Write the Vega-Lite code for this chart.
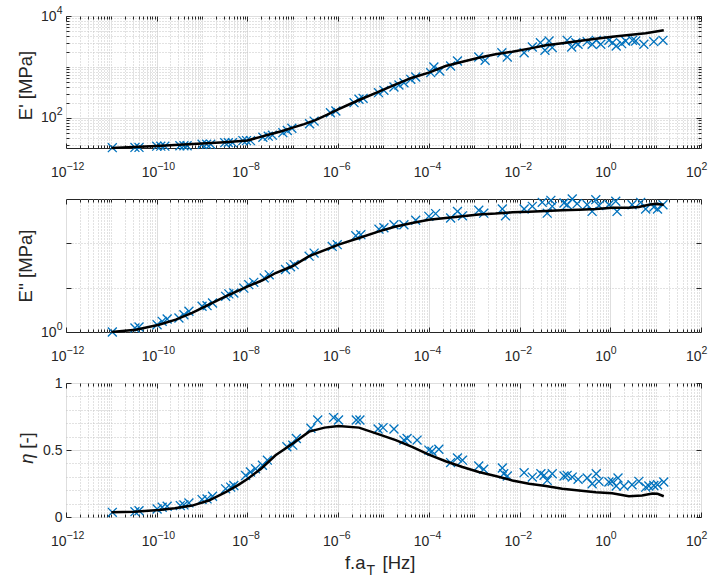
{
  "$schema": "https://vega.github.io/schema/vega-lite/v6.json",
  "background": "white",
  "padding": {"left": 15, "top": 4, "right": 2, "bottom": 2},
  "bounds": "flush",
  "spacing": 51,
  "datasets": {
    "ep_pts": [
      {"f": 1.05e-11, "v": 26.2}, {"f": 3.31e-11, "v": 26.5}, {"f": 4.07e-11, "v": 26.5},
      {"f": 1e-10, "v": 28}, {"f": 1.23e-10, "v": 28}, {"f": 1.51e-10, "v": 28},
      {"f": 3.24e-10, "v": 28.5}, {"f": 3.98e-10, "v": 28.5}, {"f": 4.68e-10, "v": 28.5},
      {"f": 1e-9, "v": 30.5}, {"f": 1.26e-9, "v": 30.5}, {"f": 1.55e-9, "v": 30.5},
      {"f": 3.16e-9, "v": 32.8}, {"f": 3.8e-9, "v": 32.8}, {"f": 4.68e-9, "v": 32.8},
      {"f": 7.94e-9, "v": 36}, {"f": 9.55e-9, "v": 36}, {"f": 1.17e-8, "v": 36},
      {"f": 2.19e-8, "v": 42}, {"f": 2.88e-8, "v": 44}, {"f": 3.55e-8, "v": 46},
      {"f": 6.03e-8, "v": 51.5}, {"f": 7.59e-8, "v": 57}, {"f": 9.55e-8, "v": 63},
      {"f": 2.34e-7, "v": 77}, {"f": 2.95e-7, "v": 87},
      {"f": 6.76e-7, "v": 127}, {"f": 8.91e-7, "v": 137},
      {"f": 2.24e-6, "v": 200}, {"f": 2.88e-6, "v": 233}, {"f": 3.55e-6, "v": 243},
      {"f": 7.76e-6, "v": 314}, {"f": 1.02e-5, "v": 349},
      {"f": 1.7e-5, "v": 405}, {"f": 2.19e-5, "v": 444}, {"f": 2.82e-5, "v": 492},
      {"f": 3.98e-5, "v": 573}, {"f": 5.13e-5, "v": 637},
      {"f": 1.1e-4, "v": 774}, {"f": 1.29e-4, "v": 1000}, {"f": 1.74e-4, "v": 835},
      {"f": 3.02e-4, "v": 1047}, {"f": 4.27e-4, "v": 1312},
      {"f": 1.26e-3, "v": 1570}, {"f": 1.74e-3, "v": 1352},
      {"f": 4.07e-3, "v": 1905}, {"f": 5.37e-3, "v": 1570},
      {"f": 1.26e-2, "v": 1905}, {"f": 1.91e-2, "v": 2466},
      {"f": 2.88e-2, "v": 3000}, {"f": 3.63e-2, "v": 2125}, {"f": 4.47e-2, "v": 3236}, {"f": 5.25e-2, "v": 2400},
      {"f": 0.112, "v": 3335}, {"f": 0.141, "v": 2466}, {"f": 0.174, "v": 3000}, {"f": 0.195, "v": 2790},
      {"f": 0.309, "v": 3135}, {"f": 0.398, "v": 2790}, {"f": 0.49, "v": 3335}, {"f": 0.617, "v": 2790},
      {"f": 0.933, "v": 3335}, {"f": 1.12, "v": 3000}, {"f": 1.35, "v": 2580}, {"f": 1.78, "v": 2865}, {"f": 2.19, "v": 3236},
      {"f": 3.09, "v": 3335}, {"f": 3.63, "v": 3236}, {"f": 5.5, "v": 2790},
      {"f": 9.12, "v": 3135}, {"f": 14.5, "v": 3335}
    ],
    "ep_fit": [
      {"f": 1e-11, "v": 25.8}, {"f": 3.16e-11, "v": 26.9}, {"f": 1e-10, "v": 28.2}, {"f": 3.16e-10, "v": 29.9},
      {"f": 1e-9, "v": 31.6}, {"f": 3.16e-9, "v": 33.5}, {"f": 1e-8, "v": 36.3}, {"f": 1.78e-8, "v": 41.7},
      {"f": 3.16e-8, "v": 47.9}, {"f": 5.62e-8, "v": 55}, {"f": 1e-7, "v": 64.6}, {"f": 1.78e-7, "v": 76},
      {"f": 3.16e-7, "v": 91}, {"f": 5.62e-7, "v": 115}, {"f": 1e-6, "v": 148}, {"f": 1.78e-6, "v": 186},
      {"f": 3.16e-6, "v": 233}, {"f": 7.94e-6, "v": 328}, {"f": 1.86e-5, "v": 457}, {"f": 4.27e-5, "v": 617},
      {"f": 1e-4, "v": 776}, {"f": 2.34e-4, "v": 1047}, {"f": 5.5e-4, "v": 1271}, {"f": 1.26e-3, "v": 1514},
      {"f": 2.95e-3, "v": 1778}, {"f": 6.92e-3, "v": 1995}, {"f": 1.62e-2, "v": 2291}, {"f": 3.8e-2, "v": 2661},
      {"f": 8.71e-2, "v": 2917}, {"f": 0.204, "v": 3236}, {"f": 0.479, "v": 3589}, {"f": 1.1, "v": 3936},
      {"f": 2.57, "v": 4236}, {"f": 6.03, "v": 4571}, {"f": 15.1, "v": 5248}
    ],
    "epp_pts": [
      {"f": 1.05e-11, "v": 1.0}, {"f": 3.31e-11, "v": 1.23}, {"f": 4.07e-11, "v": 1.3},
      {"f": 1.02e-10, "v": 1.46}, {"f": 1.32e-10, "v": 1.74}, {"f": 1.7e-10, "v": 1.96},
      {"f": 3.09e-10, "v": 2.07}, {"f": 3.98e-10, "v": 2.45}, {"f": 5.13e-10, "v": 2.93},
      {"f": 1e-9, "v": 3.8}, {"f": 1.29e-9, "v": 3.93}, {"f": 1.7e-9, "v": 4.51},
      {"f": 3.31e-9, "v": 6.38}, {"f": 3.89e-9, "v": 7.24}, {"f": 5.01e-9, "v": 7.59},
      {"f": 8.32e-9, "v": 9.77}, {"f": 1.07e-8, "v": 11.7}, {"f": 1.38e-8, "v": 13.2},
      {"f": 2.34e-8, "v": 16.6}, {"f": 3.02e-8, "v": 19.5},
      {"f": 6.92e-8, "v": 25.7}, {"f": 8.91e-8, "v": 29.5}, {"f": 1.07e-7, "v": 33.1},
      {"f": 2.29e-7, "v": 51.3}, {"f": 2.95e-7, "v": 60.3},
      {"f": 7.41e-7, "v": 85.1}, {"f": 9.55e-7, "v": 93.3},
      {"f": 2.45e-6, "v": 148}, {"f": 3.16e-6, "v": 157},
      {"f": 7.94e-6, "v": 209}, {"f": 1.02e-5, "v": 224},
      {"f": 1.7e-5, "v": 263}, {"f": 2.82e-5, "v": 263}, {"f": 5.13e-5, "v": 331},
      {"f": 1e-4, "v": 407}, {"f": 1.41e-4, "v": 468},
      {"f": 3.02e-4, "v": 372}, {"f": 4.27e-4, "v": 525}, {"f": 5.5e-4, "v": 417},
      {"f": 1.26e-3, "v": 556}, {"f": 1.62e-3, "v": 479},
      {"f": 4.17e-3, "v": 596}, {"f": 4.9e-3, "v": 417},
      {"f": 1.26e-2, "v": 596}, {"f": 1.91e-2, "v": 684},
      {"f": 3.16e-2, "v": 841}, {"f": 4.07e-2, "v": 479}, {"f": 4.9e-2, "v": 933}, {"f": 5.25e-2, "v": 684},
      {"f": 9.55e-2, "v": 813}, {"f": 0.112, "v": 741}, {"f": 0.145, "v": 1000}, {"f": 0.186, "v": 785},
      {"f": 0.309, "v": 741}, {"f": 0.398, "v": 525}, {"f": 0.479, "v": 966}, {"f": 0.562, "v": 708},
      {"f": 0.933, "v": 741}, {"f": 1.32, "v": 891}, {"f": 1.41, "v": 525},
      {"f": 3.02, "v": 741}, {"f": 4.68, "v": 841}, {"f": 6.03, "v": 596},
      {"f": 9.12, "v": 661}, {"f": 11.0, "v": 596}, {"f": 14.5, "v": 741}
    ],
    "epp_fit": [
      {"f": 1e-11, "v": 1.0}, {"f": 3.47e-11, "v": 1.12}, {"f": 1.12e-10, "v": 1.46}, {"f": 2.63e-10, "v": 1.9},
      {"f": 6.03e-10, "v": 2.69}, {"f": 1.41e-9, "v": 4.14}, {"f": 3.31e-9, "v": 6.4}, {"f": 1.02e-8, "v": 10.7},
      {"f": 2.14e-8, "v": 14.7}, {"f": 4.17e-8, "v": 21.4}, {"f": 9.77e-8, "v": 30.4}, {"f": 2.29e-7, "v": 51.3},
      {"f": 5.37e-7, "v": 72}, {"f": 1.02e-6, "v": 93.3}, {"f": 2.88e-6, "v": 132}, {"f": 7.94e-6, "v": 186},
      {"f": 1.86e-5, "v": 240}, {"f": 4.27e-5, "v": 288}, {"f": 1e-4, "v": 339}, {"f": 2.34e-4, "v": 372},
      {"f": 5.5e-4, "v": 407}, {"f": 1.26e-3, "v": 447}, {"f": 2.95e-3, "v": 468}, {"f": 6.92e-3, "v": 501},
      {"f": 1.62e-2, "v": 513}, {"f": 3.8e-2, "v": 537}, {"f": 8.71e-2, "v": 556}, {"f": 0.204, "v": 575},
      {"f": 0.479, "v": 596}, {"f": 1.1, "v": 631}, {"f": 2.57, "v": 631}, {"f": 4.27, "v": 661},
      {"f": 7.08, "v": 741}, {"f": 10, "v": 776}, {"f": 15.1, "v": 741}
    ],
    "eta_pts": [
      {"f": 1.05e-11, "v": 0.035}, {"f": 3.31e-11, "v": 0.04}, {"f": 4.07e-11, "v": 0.047},
      {"f": 1.02e-10, "v": 0.06}, {"f": 1.32e-10, "v": 0.073}, {"f": 1.7e-10, "v": 0.08},
      {"f": 3.31e-10, "v": 0.085}, {"f": 3.98e-10, "v": 0.09}, {"f": 5.13e-10, "v": 0.105},
      {"f": 1e-9, "v": 0.13}, {"f": 1.29e-9, "v": 0.135}, {"f": 1.7e-9, "v": 0.155},
      {"f": 3.31e-9, "v": 0.21}, {"f": 4.27e-9, "v": 0.223}, {"f": 5.01e-9, "v": 0.235},
      {"f": 9.12e-9, "v": 0.31}, {"f": 1.17e-8, "v": 0.336}, {"f": 1.51e-8, "v": 0.36},
      {"f": 2.14e-8, "v": 0.386}, {"f": 2.75e-8, "v": 0.424},
      {"f": 7.41e-8, "v": 0.524}, {"f": 1e-7, "v": 0.536}, {"f": 1.2e-7, "v": 0.586},
      {"f": 2.51e-7, "v": 0.662}, {"f": 3.55e-7, "v": 0.724},
      {"f": 7.94e-7, "v": 0.742}, {"f": 1.02e-6, "v": 0.724},
      {"f": 2.51e-6, "v": 0.724}, {"f": 3.02e-6, "v": 0.724},
      {"f": 7.59e-6, "v": 0.657}, {"f": 9.77e-6, "v": 0.667},
      {"f": 1.7e-5, "v": 0.657}, {"f": 2.82e-5, "v": 0.574}, {"f": 3.31e-5, "v": 0.586}, {"f": 5.5e-5, "v": 0.574},
      {"f": 1e-4, "v": 0.499}, {"f": 1.17e-4, "v": 0.491}, {"f": 1.66e-4, "v": 0.506},
      {"f": 3.02e-4, "v": 0.406}, {"f": 4.27e-4, "v": 0.441}, {"f": 5.5e-4, "v": 0.424},
      {"f": 1.26e-3, "v": 0.381}, {"f": 1.62e-3, "v": 0.356},
      {"f": 4.17e-3, "v": 0.366}, {"f": 4.47e-3, "v": 0.323}, {"f": 5.37e-3, "v": 0.306},
      {"f": 1.26e-2, "v": 0.331}, {"f": 1.91e-2, "v": 0.298},
      {"f": 2.95e-2, "v": 0.323}, {"f": 3.47e-2, "v": 0.311}, {"f": 4.07e-2, "v": 0.273}, {"f": 5.25e-2, "v": 0.323},
      {"f": 9.55e-2, "v": 0.306}, {"f": 0.112, "v": 0.311}, {"f": 0.145, "v": 0.298}, {"f": 0.195, "v": 0.281},
      {"f": 0.309, "v": 0.291}, {"f": 0.398, "v": 0.248}, {"f": 0.49, "v": 0.323}, {"f": 0.562, "v": 0.266},
      {"f": 0.933, "v": 0.261}, {"f": 1.1, "v": 0.266}, {"f": 1.35, "v": 0.231}, {"f": 1.48, "v": 0.291},
      {"f": 2.0, "v": 0.231}, {"f": 3.02, "v": 0.241}, {"f": 4.27, "v": 0.266}, {"f": 6.03, "v": 0.223}, {"f": 7.08, "v": 0.231},
      {"f": 9.12, "v": 0.235}, {"f": 11.0, "v": 0.241}, {"f": 15.1, "v": 0.261}
    ],
    "eta_fit": [
      {"f": 1e-11, "v": 0.035}, {"f": 3.16e-11, "v": 0.04}, {"f": 1.12e-10, "v": 0.053}, {"f": 2.51e-10, "v": 0.065},
      {"f": 6.03e-10, "v": 0.085}, {"f": 1.41e-9, "v": 0.123}, {"f": 3.31e-9, "v": 0.185}, {"f": 6.31e-9, "v": 0.24},
      {"f": 1.02e-8, "v": 0.286}, {"f": 2.0e-8, "v": 0.36}, {"f": 4.17e-8, "v": 0.461}, {"f": 1e-7, "v": 0.549},
      {"f": 2.29e-7, "v": 0.637}, {"f": 5.01e-7, "v": 0.667}, {"f": 1.02e-6, "v": 0.679}, {"f": 2.88e-6, "v": 0.667},
      {"f": 7.94e-6, "v": 0.617}, {"f": 1.86e-5, "v": 0.574}, {"f": 4.27e-5, "v": 0.524}, {"f": 1e-4, "v": 0.466},
      {"f": 2.34e-4, "v": 0.416}, {"f": 5.5e-4, "v": 0.373}, {"f": 1.26e-3, "v": 0.336}, {"f": 2.95e-3, "v": 0.306},
      {"f": 6.92e-3, "v": 0.273}, {"f": 1.62e-2, "v": 0.248}, {"f": 3.8e-2, "v": 0.231}, {"f": 8.71e-2, "v": 0.211},
      {"f": 0.204, "v": 0.198}, {"f": 0.479, "v": 0.185}, {"f": 1.1, "v": 0.178}, {"f": 2.57, "v": 0.155},
      {"f": 5.01, "v": 0.16}, {"f": 8.51, "v": 0.175}, {"f": 11.0, "v": 0.173}, {"f": 15.1, "v": 0.155}
    ]
  },
  "vconcat": [
    {
      "width": 635, "height": 132,
      "resolve": {"axis": {"x": "independent", "y": "independent"}},
      "layer": [
        {
          "data": {"name": "ep_pts"},
          "mark": {"type": "point", "shape": "M-1,-1L1,1M-1,1L1,-1", "filled": false, "color": "#0072BD", "strokeWidth": 1.3, "size": 80, "opacity": 1},
          "encoding": {
            "x": {"field": "f", "type": "quantitative", "scale": {"type": "log", "domain": [1e-12, 100], "nice": false},
              "axis": {"orient": "bottom", "values": [1e-12, 1e-10, 1e-8, 1e-6, 1e-4, 0.01, 1, 100], "labelExpr": "'10'", "labelAlign": "right", "encode": {"labels": {"update": {"dx": {"signal": "datum.value < 1e-9 ? -1 : datum.value < 0.1 ? 2 : 5"}}}}, "grid": true, "gridColor": "#dedede", "tickSize": -5, "labelBaseline": "alphabetic", "labelPadding": 33, "title": null}},
            "y": {"field": "v", "type": "quantitative", "scale": {"type": "log", "domain": [25.8, 10000], "nice": false},
              "axis": {"orient": "left", "values": [100, 10000], "labelExpr": "'10'", "grid": true, "gridColor": "#dedede", "tickSize": -5, "labelPadding": 15, "title": "E' [MPa]", "titleX": -35, "titleY": 69, "titleBaseline": "alphabetic"}}
          }
        },
        {
          "data": {"name": "ep_fit"},
          "mark": {"type": "line", "color": "black", "strokeWidth": 2.5},
          "encoding": {
            "x": {"field": "f", "type": "quantitative", "scale": {"type": "log", "domain": [1e-12, 100], "nice": false},
              "axis": {"orient": "bottom", "values": [2e-12,3e-12,4e-12,5e-12,6e-12,7e-12,8e-12,9e-12,1e-11,2e-11,3e-11,4e-11,5e-11,6e-11,7e-11,8e-11,9e-11,2e-10,3e-10,4e-10,5e-10,6e-10,7e-10,8e-10,9e-10,1e-9,2e-9,3e-9,4e-9,5e-9,6e-9,7e-9,8e-9,9e-9,2e-8,3e-8,4e-8,5e-8,6e-8,7e-8,8e-8,9e-8,1e-7,2e-7,3e-7,4e-7,5e-7,6e-7,7e-7,8e-7,9e-7,2e-6,3e-6,4e-6,5e-6,6e-6,7e-6,8e-6,9e-6,1e-5,2e-5,3e-5,4e-5,5e-5,6e-5,7e-5,8e-5,9e-5,2e-4,3e-4,4e-4,5e-4,6e-4,7e-4,8e-4,9e-4,1e-3,2e-3,3e-3,4e-3,5e-3,6e-3,7e-3,8e-3,9e-3,0.02,0.03,0.04,0.05,0.06,0.07,0.08,0.09,0.1,0.2,0.3,0.4,0.5,0.6,0.7,0.8,0.9,2,3,4,5,6,7,8,9,10,20,30,40,50,60,70,80,90], "labels": false, "grid": true, "gridColor": "#c4c4c4", "gridDash": [1, 2], "tickSize": -3, "title": null}},
            "y": {"field": "v", "type": "quantitative", "scale": {"type": "log", "domain": [25.8, 10000], "nice": false},
              "axis": {"orient": "left", "values": [30,40,50,60,70,80,90,200,300,400,500,600,700,800,900,1000,2000,3000,4000,5000,6000,7000,8000,9000], "labels": false, "grid": true, "gridColor": "#c4c4c4", "gridDash": [1, 2], "tickSize": -3, "title": null}}
          }
        },
        {
          "data": {"name": "ep_pts"},
          "mark": {"type": "point", "opacity": 0},
          "encoding": {
            "x": {"field": "f", "type": "quantitative", "scale": {"type": "log", "domain": [1e-12, 100], "nice": false},
              "axis": {"orient": "bottom", "values": [1e-12, 1e-10, 1e-8, 1e-6, 1e-4, 0.01, 1, 100], "ticks": false, "grid": false, "labelFontSize": 10.5, "labelAlign": "left", "labelBaseline": "alphabetic", "labelPadding": 21, "labelExpr": "datum.value < 1e-11 ? '−12' : datum.value < 1e-9 ? '−10' : datum.value < 1e-7 ? '−8' : datum.value < 1e-5 ? '−6' : datum.value < 1e-3 ? '−4' : datum.value < 0.1 ? '−2' : datum.value < 10 ? '0' : '2'", "encode": {"labels": {"update": {"dx": {"signal": "datum.value < 1e-9 ? -1 : datum.value < 0.1 ? 2 : 5"}}}}, "title": null}},
            "y": {"field": "v", "type": "quantitative", "scale": {"type": "log", "domain": [25.8, 10000], "nice": false},
              "axis": {"orient": "left", "values": [100, 10000], "ticks": false, "grid": false, "labelFontSize": 10.5, "labelPadding": 4, "labelOffset": -6, "labelExpr": "datum.value < 1000 ? '2' : '4'", "title": null}}
          }
        },
        {
          "data": {"name": "ep_pts"},
          "mark": {"type": "point", "opacity": 0},
          "encoding": {
            "x": {"field": "f", "type": "quantitative", "scale": {"type": "log", "domain": [1e-12, 100], "nice": false},
              "axis": {"orient": "top", "values": [1e-12, 1e-10, 1e-8, 1e-6, 1e-4, 0.01, 1, 100], "labels": false, "grid": false, "tickSize": -5, "title": null}},
            "y": {"field": "v", "type": "quantitative", "scale": {"type": "log", "domain": [25.8, 10000], "nice": false},
              "axis": {"orient": "right", "values": [100, 10000], "labels": false, "grid": false, "tickSize": -5, "title": null}}
          }
        },
        {
          "data": {"name": "ep_pts"},
          "mark": {"type": "point", "opacity": 0},
          "encoding": {
            "x": {"field": "f", "type": "quantitative", "scale": {"type": "log", "domain": [1e-12, 100], "nice": false},
              "axis": {"orient": "top", "values": [2e-12,3e-12,4e-12,5e-12,6e-12,7e-12,8e-12,9e-12,1e-11,2e-11,3e-11,4e-11,5e-11,6e-11,7e-11,8e-11,9e-11,2e-10,3e-10,4e-10,5e-10,6e-10,7e-10,8e-10,9e-10,1e-9,2e-9,3e-9,4e-9,5e-9,6e-9,7e-9,8e-9,9e-9,2e-8,3e-8,4e-8,5e-8,6e-8,7e-8,8e-8,9e-8,1e-7,2e-7,3e-7,4e-7,5e-7,6e-7,7e-7,8e-7,9e-7,2e-6,3e-6,4e-6,5e-6,6e-6,7e-6,8e-6,9e-6,1e-5,2e-5,3e-5,4e-5,5e-5,6e-5,7e-5,8e-5,9e-5,2e-4,3e-4,4e-4,5e-4,6e-4,7e-4,8e-4,9e-4,1e-3,2e-3,3e-3,4e-3,5e-3,6e-3,7e-3,8e-3,9e-3,0.02,0.03,0.04,0.05,0.06,0.07,0.08,0.09,0.1,0.2,0.3,0.4,0.5,0.6,0.7,0.8,0.9,2,3,4,5,6,7,8,9,10,20,30,40,50,60,70,80,90], "labels": false, "grid": false, "tickSize": -3, "title": null}},
            "y": {"field": "v", "type": "quantitative", "scale": {"type": "log", "domain": [25.8, 10000], "nice": false},
              "axis": {"orient": "right", "values": [30,40,50,60,70,80,90,200,300,400,500,600,700,800,900,1000,2000,3000,4000,5000,6000,7000,8000,9000], "labels": false, "grid": false, "tickSize": -3, "title": null}}
          }
        }
      ]
    },
    {
      "width": 635, "height": 133,
      "resolve": {"axis": {"x": "independent", "y": "independent"}},
      "layer": [
        {
          "data": {"name": "epp_pts"},
          "mark": {"type": "point", "shape": "M-1,-1L1,1M-1,1L1,-1", "filled": false, "color": "#0072BD", "strokeWidth": 1.3, "size": 80, "opacity": 1},
          "encoding": {
            "x": {"field": "f", "type": "quantitative", "scale": {"type": "log", "domain": [1e-12, 100], "nice": false},
              "axis": {"orient": "bottom", "values": [1e-12, 1e-10, 1e-8, 1e-6, 1e-4, 0.01, 1, 100], "labelExpr": "'10'", "labelAlign": "right", "encode": {"labels": {"update": {"dx": {"signal": "datum.value < 1e-9 ? -1 : datum.value < 0.1 ? 2 : 5"}}}}, "grid": true, "gridColor": "#dedede", "tickSize": -5, "labelBaseline": "alphabetic", "labelPadding": 33, "title": null}},
            "y": {"field": "v", "type": "quantitative", "scale": {"type": "log", "domain": [1, 1000], "nice": false},
              "axis": {"orient": "left", "values": [1], "labelExpr": "'10'", "grid": false, "tickSize": -5, "labelPadding": 15, "title": "E'' [MPa]", "titleX": -35, "titleBaseline": "alphabetic"}}
          }
        },
        {
          "data": {"name": "epp_fit"},
          "mark": {"type": "line", "color": "black", "strokeWidth": 2.5},
          "encoding": {
            "x": {"field": "f", "type": "quantitative", "scale": {"type": "log", "domain": [1e-12, 100], "nice": false},
              "axis": {"orient": "bottom", "values": [2e-12,3e-12,4e-12,5e-12,6e-12,7e-12,8e-12,9e-12,1e-11,2e-11,3e-11,4e-11,5e-11,6e-11,7e-11,8e-11,9e-11,2e-10,3e-10,4e-10,5e-10,6e-10,7e-10,8e-10,9e-10,1e-9,2e-9,3e-9,4e-9,5e-9,6e-9,7e-9,8e-9,9e-9,2e-8,3e-8,4e-8,5e-8,6e-8,7e-8,8e-8,9e-8,1e-7,2e-7,3e-7,4e-7,5e-7,6e-7,7e-7,8e-7,9e-7,2e-6,3e-6,4e-6,5e-6,6e-6,7e-6,8e-6,9e-6,1e-5,2e-5,3e-5,4e-5,5e-5,6e-5,7e-5,8e-5,9e-5,2e-4,3e-4,4e-4,5e-4,6e-4,7e-4,8e-4,9e-4,1e-3,2e-3,3e-3,4e-3,5e-3,6e-3,7e-3,8e-3,9e-3,0.02,0.03,0.04,0.05,0.06,0.07,0.08,0.09,0.1,0.2,0.3,0.4,0.5,0.6,0.7,0.8,0.9,2,3,4,5,6,7,8,9,10,20,30,40,50,60,70,80,90], "labels": false, "grid": true, "gridColor": "#c4c4c4", "gridDash": [1, 2], "tickSize": -3, "title": null}},
            "y": {"field": "v", "type": "quantitative", "scale": {"type": "log", "domain": [1, 1000], "nice": false},
              "axis": {"orient": "left", "values": [10, 100], "labels": false, "grid": true, "gridColor": "#c4c4c4", "gridDash": [1, 2], "tickSize": -5, "title": null}}
          }
        },
        {
          "data": {"name": "epp_pts"},
          "mark": {"type": "point", "opacity": 0},
          "encoding": {
            "x": {"field": "f", "type": "quantitative", "scale": {"type": "log", "domain": [1e-12, 100], "nice": false},
              "axis": {"orient": "bottom", "values": [1e-12, 1e-10, 1e-8, 1e-6, 1e-4, 0.01, 1, 100], "ticks": false, "grid": false, "labelFontSize": 10.5, "labelAlign": "left", "labelBaseline": "alphabetic", "labelPadding": 21, "labelExpr": "datum.value < 1e-11 ? '−12' : datum.value < 1e-9 ? '−10' : datum.value < 1e-7 ? '−8' : datum.value < 1e-5 ? '−6' : datum.value < 1e-3 ? '−4' : datum.value < 0.1 ? '−2' : datum.value < 10 ? '0' : '2'", "encode": {"labels": {"update": {"dx": {"signal": "datum.value < 1e-9 ? -1 : datum.value < 0.1 ? 2 : 5"}}}}, "title": null}},
            "y": {"field": "v", "type": "quantitative", "scale": {"type": "log", "domain": [1, 1000], "nice": false},
              "axis": {"orient": "left", "values": [1], "ticks": false, "grid": false, "labelFontSize": 10.5, "labelPadding": 4, "labelOffset": -6, "labelExpr": "'0'", "title": null}}
          }
        },
        {
          "data": {"name": "epp_pts"},
          "mark": {"type": "point", "opacity": 0},
          "encoding": {
            "x": {"field": "f", "type": "quantitative", "scale": {"type": "log", "domain": [1e-12, 100], "nice": false},
              "axis": {"orient": "top", "values": [1e-12, 1e-10, 1e-8, 1e-6, 1e-4, 0.01, 1, 100], "labels": false, "grid": false, "tickSize": -5, "title": null}},
            "y": {"field": "v", "type": "quantitative", "scale": {"type": "log", "domain": [1, 1000], "nice": false},
              "axis": {"orient": "right", "values": [10, 100], "labels": false, "grid": false, "tickSize": -5, "title": null}}
          }
        },
        {
          "data": {"name": "epp_pts"},
          "mark": {"type": "point", "opacity": 0},
          "encoding": {
            "x": {"field": "f", "type": "quantitative", "scale": {"type": "log", "domain": [1e-12, 100], "nice": false},
              "axis": {"orient": "top", "values": [2e-12,3e-12,4e-12,5e-12,6e-12,7e-12,8e-12,9e-12,1e-11,2e-11,3e-11,4e-11,5e-11,6e-11,7e-11,8e-11,9e-11,2e-10,3e-10,4e-10,5e-10,6e-10,7e-10,8e-10,9e-10,1e-9,2e-9,3e-9,4e-9,5e-9,6e-9,7e-9,8e-9,9e-9,2e-8,3e-8,4e-8,5e-8,6e-8,7e-8,8e-8,9e-8,1e-7,2e-7,3e-7,4e-7,5e-7,6e-7,7e-7,8e-7,9e-7,2e-6,3e-6,4e-6,5e-6,6e-6,7e-6,8e-6,9e-6,1e-5,2e-5,3e-5,4e-5,5e-5,6e-5,7e-5,8e-5,9e-5,2e-4,3e-4,4e-4,5e-4,6e-4,7e-4,8e-4,9e-4,1e-3,2e-3,3e-3,4e-3,5e-3,6e-3,7e-3,8e-3,9e-3,0.02,0.03,0.04,0.05,0.06,0.07,0.08,0.09,0.1,0.2,0.3,0.4,0.5,0.6,0.7,0.8,0.9,2,3,4,5,6,7,8,9,10,20,30,40,50,60,70,80,90], "labels": false, "grid": false, "tickSize": -3, "title": null}},
            "y": {"field": "v", "type": "quantitative", "scale": {"type": "log", "domain": [1, 1000], "nice": false}, "axis": null}
          }
        }
      ]
    },
    {
      "width": 635, "height": 134,
      "resolve": {"axis": {"x": "independent", "y": "independent"}},
      "layer": [
        {
          "data": {"name": "eta_pts"},
          "mark": {"type": "point", "shape": "M-1,-1L1,1M-1,1L1,-1", "filled": false, "color": "#0072BD", "strokeWidth": 1.3, "size": 80, "opacity": 1},
          "encoding": {
            "x": {"field": "f", "type": "quantitative", "scale": {"type": "log", "domain": [1e-12, 100], "nice": false},
              "axis": {"orient": "bottom", "values": [1e-12, 1e-10, 1e-8, 1e-6, 1e-4, 0.01, 1, 100], "labelExpr": "'10'", "labelAlign": "right", "encode": {"labels": {"update": {"dx": {"signal": "datum.value < 1e-9 ? -1 : datum.value < 0.1 ? 2 : 5"}}}}, "grid": true, "gridColor": "#dedede", "tickSize": -5, "labelBaseline": "alphabetic", "labelPadding": 33, "title": "f.a", "titleAlign": "right", "titleBaseline": "alphabetic", "titleX": 299, "titleY": 51}},
            "y": {"field": "v", "type": "quantitative", "scale": {"type": "linear", "domain": [0, 1], "nice": false},
              "axis": {"orient": "left", "values": [0, 0.5, 1], "format": "~g", "grid": true, "gridColor": "#dedede", "tickSize": -5, "labelPadding": 9, "title": "η", "titleFontStyle": "italic", "titleX": -34, "titleY": 75, "titleBaseline": "alphabetic"}}
          }
        },
        {
          "data": {"name": "eta_fit"},
          "mark": {"type": "line", "color": "black", "strokeWidth": 2.5},
          "encoding": {
            "x": {"field": "f", "type": "quantitative", "scale": {"type": "log", "domain": [1e-12, 100], "nice": false},
              "axis": {"orient": "bottom", "values": [2e-12,3e-12,4e-12,5e-12,6e-12,7e-12,8e-12,9e-12,1e-11,2e-11,3e-11,4e-11,5e-11,6e-11,7e-11,8e-11,9e-11,2e-10,3e-10,4e-10,5e-10,6e-10,7e-10,8e-10,9e-10,1e-9,2e-9,3e-9,4e-9,5e-9,6e-9,7e-9,8e-9,9e-9,2e-8,3e-8,4e-8,5e-8,6e-8,7e-8,8e-8,9e-8,1e-7,2e-7,3e-7,4e-7,5e-7,6e-7,7e-7,8e-7,9e-7,2e-6,3e-6,4e-6,5e-6,6e-6,7e-6,8e-6,9e-6,1e-5,2e-5,3e-5,4e-5,5e-5,6e-5,7e-5,8e-5,9e-5,2e-4,3e-4,4e-4,5e-4,6e-4,7e-4,8e-4,9e-4,1e-3,2e-3,3e-3,4e-3,5e-3,6e-3,7e-3,8e-3,9e-3,0.02,0.03,0.04,0.05,0.06,0.07,0.08,0.09,0.1,0.2,0.3,0.4,0.5,0.6,0.7,0.8,0.9,2,3,4,5,6,7,8,9,10,20,30,40,50,60,70,80,90], "labels": false, "grid": true, "gridColor": "#c4c4c4", "gridDash": [1, 2], "tickSize": -3, "title": "[Hz]", "titleAlign": "left", "titleBaseline": "alphabetic", "titleX": 316, "titleY": 51}},
            "y": {"field": "v", "type": "quantitative", "scale": {"type": "linear", "domain": [0, 1], "nice": false},
              "axis": {"orient": "left", "values": [0.1, 0.2, 0.3, 0.4, 0.6, 0.7, 0.8, 0.9], "labels": false, "ticks": false, "grid": true, "gridColor": "#c4c4c4", "gridDash": [1, 2], "title": "[-]", "titleX": -34, "titleY": 57, "titleBaseline": "alphabetic"}}
          }
        },
        {
          "data": {"name": "eta_pts"},
          "mark": {"type": "point", "opacity": 0},
          "encoding": {
            "x": {"field": "f", "type": "quantitative", "scale": {"type": "log", "domain": [1e-12, 100], "nice": false},
              "axis": {"orient": "bottom", "values": [1e-12, 1e-10, 1e-8, 1e-6, 1e-4, 0.01, 1, 100], "ticks": false, "grid": false, "labelFontSize": 10.5, "labelAlign": "left", "labelBaseline": "alphabetic", "labelPadding": 21, "labelExpr": "datum.value < 1e-11 ? '−12' : datum.value < 1e-9 ? '−10' : datum.value < 1e-7 ? '−8' : datum.value < 1e-5 ? '−6' : datum.value < 1e-3 ? '−4' : datum.value < 0.1 ? '−2' : datum.value < 10 ? '0' : '2'", "encode": {"labels": {"update": {"dx": {"signal": "datum.value < 1e-9 ? -1 : datum.value < 0.1 ? 2 : 5"}}}}, "title": "T", "titleFontSize": 14, "titleAlign": "left", "titleBaseline": "alphabetic", "titleX": 300, "titleY": 57}},
            "y": {"field": "v", "type": "quantitative", "scale": {"type": "linear", "domain": [0, 1], "nice": false}, "axis": null}
          }
        },
        {
          "data": {"name": "eta_pts"},
          "mark": {"type": "point", "opacity": 0},
          "encoding": {
            "x": {"field": "f", "type": "quantitative", "scale": {"type": "log", "domain": [1e-12, 100], "nice": false},
              "axis": {"orient": "top", "values": [1e-12, 1e-10, 1e-8, 1e-6, 1e-4, 0.01, 1, 100], "labels": false, "grid": false, "tickSize": -5, "title": null}},
            "y": {"field": "v", "type": "quantitative", "scale": {"type": "linear", "domain": [0, 1], "nice": false},
              "axis": {"orient": "right", "values": [0, 0.5, 1], "labels": false, "grid": false, "tickSize": -5, "title": null}}
          }
        },
        {
          "data": {"name": "eta_pts"},
          "mark": {"type": "point", "opacity": 0},
          "encoding": {
            "x": {"field": "f", "type": "quantitative", "scale": {"type": "log", "domain": [1e-12, 100], "nice": false},
              "axis": {"orient": "top", "values": [2e-12,3e-12,4e-12,5e-12,6e-12,7e-12,8e-12,9e-12,1e-11,2e-11,3e-11,4e-11,5e-11,6e-11,7e-11,8e-11,9e-11,2e-10,3e-10,4e-10,5e-10,6e-10,7e-10,8e-10,9e-10,1e-9,2e-9,3e-9,4e-9,5e-9,6e-9,7e-9,8e-9,9e-9,2e-8,3e-8,4e-8,5e-8,6e-8,7e-8,8e-8,9e-8,1e-7,2e-7,3e-7,4e-7,5e-7,6e-7,7e-7,8e-7,9e-7,2e-6,3e-6,4e-6,5e-6,6e-6,7e-6,8e-6,9e-6,1e-5,2e-5,3e-5,4e-5,5e-5,6e-5,7e-5,8e-5,9e-5,2e-4,3e-4,4e-4,5e-4,6e-4,7e-4,8e-4,9e-4,1e-3,2e-3,3e-3,4e-3,5e-3,6e-3,7e-3,8e-3,9e-3,0.02,0.03,0.04,0.05,0.06,0.07,0.08,0.09,0.1,0.2,0.3,0.4,0.5,0.6,0.7,0.8,0.9,2,3,4,5,6,7,8,9,10,20,30,40,50,60,70,80,90], "labels": false, "grid": false, "tickSize": -3, "title": null}},
            "y": {"field": "v", "type": "quantitative", "scale": {"type": "linear", "domain": [0, 1], "nice": false}, "axis": null}
          }
        }
      ]
    }
  ],
  "config": {
    "view": {"stroke": "#262626", "strokeWidth": 1},
    "axis": {
      "labelFont": "Liberation Sans", "titleFont": "Liberation Sans",
      "labelFontSize": 14, "titleFontSize": 18.5, "titleFontWeight": "normal",
      "labelColor": "#262626", "titleColor": "#262626",
      "tickColor": "#262626", "tickWidth": 1,
      "domain": false, "labelFlush": false, "labelOverlap": false, "gridWidth": 1
    }
  }
}
